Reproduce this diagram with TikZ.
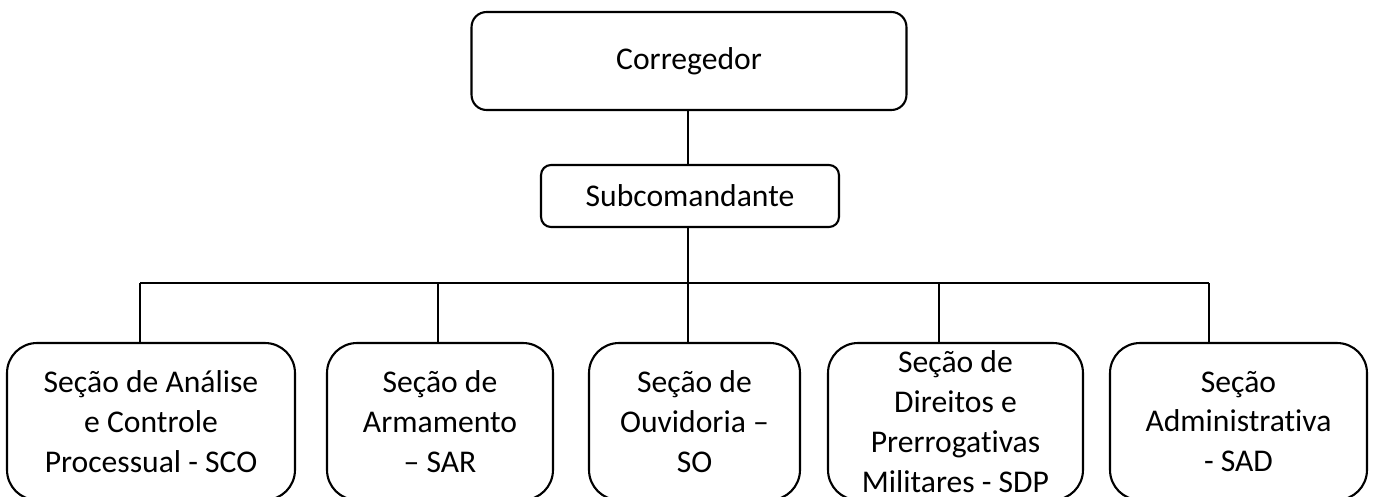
\documentclass[tikz,border=0pt]{standalone}
\usepackage{fontspec}
\setmainfont{Carlito}[Ligatures=NoCommon]
\usepackage{tikz}
\tikzstyle{chief} = [rectangle, rounded corners=0.3cm, draw=black, line width=1.2pt, align=center, font=\fontsize{18}{22.7}\selectfont]
\tikzstyle{section} = [rectangle, rounded corners=0.6cm, draw=black, line width=1.2pt, align=center, minimum height=3.14cm, font=\fontsize{18}{22.7}\selectfont]
\tikzstyle{link} = [line width=0.8pt]

\begin{document}
\begin{tikzpicture}[x=0.02cm, y=-0.02cm]
        \useasboundingbox (0,0) rectangle (1374,497);
        \clip (0,0) rectangle (1374,497);
        \node (cor) [chief, minimum width=8.7cm, minimum height=1.96cm] at (689,61) {Corregedor};
        \node (sub) [chief, rounded corners=0.2cm, minimum width=5.96cm, minimum height=1.24cm] at (690,196) {Subcomandante};
        \node (sco) [section, minimum width=5.76cm] at (151,421.5) {Seção de Análise\\e Controle\\Processual - SCO};
        \node (sar) [section, minimum width=4.52cm] at (440,421.5) {Seção de\\Armamento\\– SAR};
        \node (so) [section, minimum width=4.22cm] at (694.5,421.5) {Seção de\\Ouvidoria –\\SO};
        \node (sdp) [section, minimum width=5.1cm] at (955.5,421.5) {Seção de\\Direitos e\\Prerrogativas\\Militares - SDP};
        \node (sad) [section, minimum width=5.14cm] at (1238.5,421.5) {Seção\\Administrativa\\- SAD};
        % bus line
        \coordinate (t1) at (140,283);
        \coordinate (t2) at (438,283);
        \coordinate (t3) at (688,283);
        \coordinate (t4) at (939,283);
        \coordinate (t5) at (1209,283);
        \draw [link] (cor.south -| t3) -- (sub.north -| t3);
        \draw [link] (sub.south -| t3) -- (t3);
        \draw [link] (t1) -- (t5);
        \draw [link] (t1) -- (t1 |- sco.north);
        \draw [link] (t2) -- (t2 |- sar.north);
        \draw [link] (t3) -- (t3 |- so.north);
        \draw [link] (t4) -- (t4 |- sdp.north);
        \draw [link] (t5) -- (t5 |- sad.north);
    \end{tikzpicture}
\end{document}
